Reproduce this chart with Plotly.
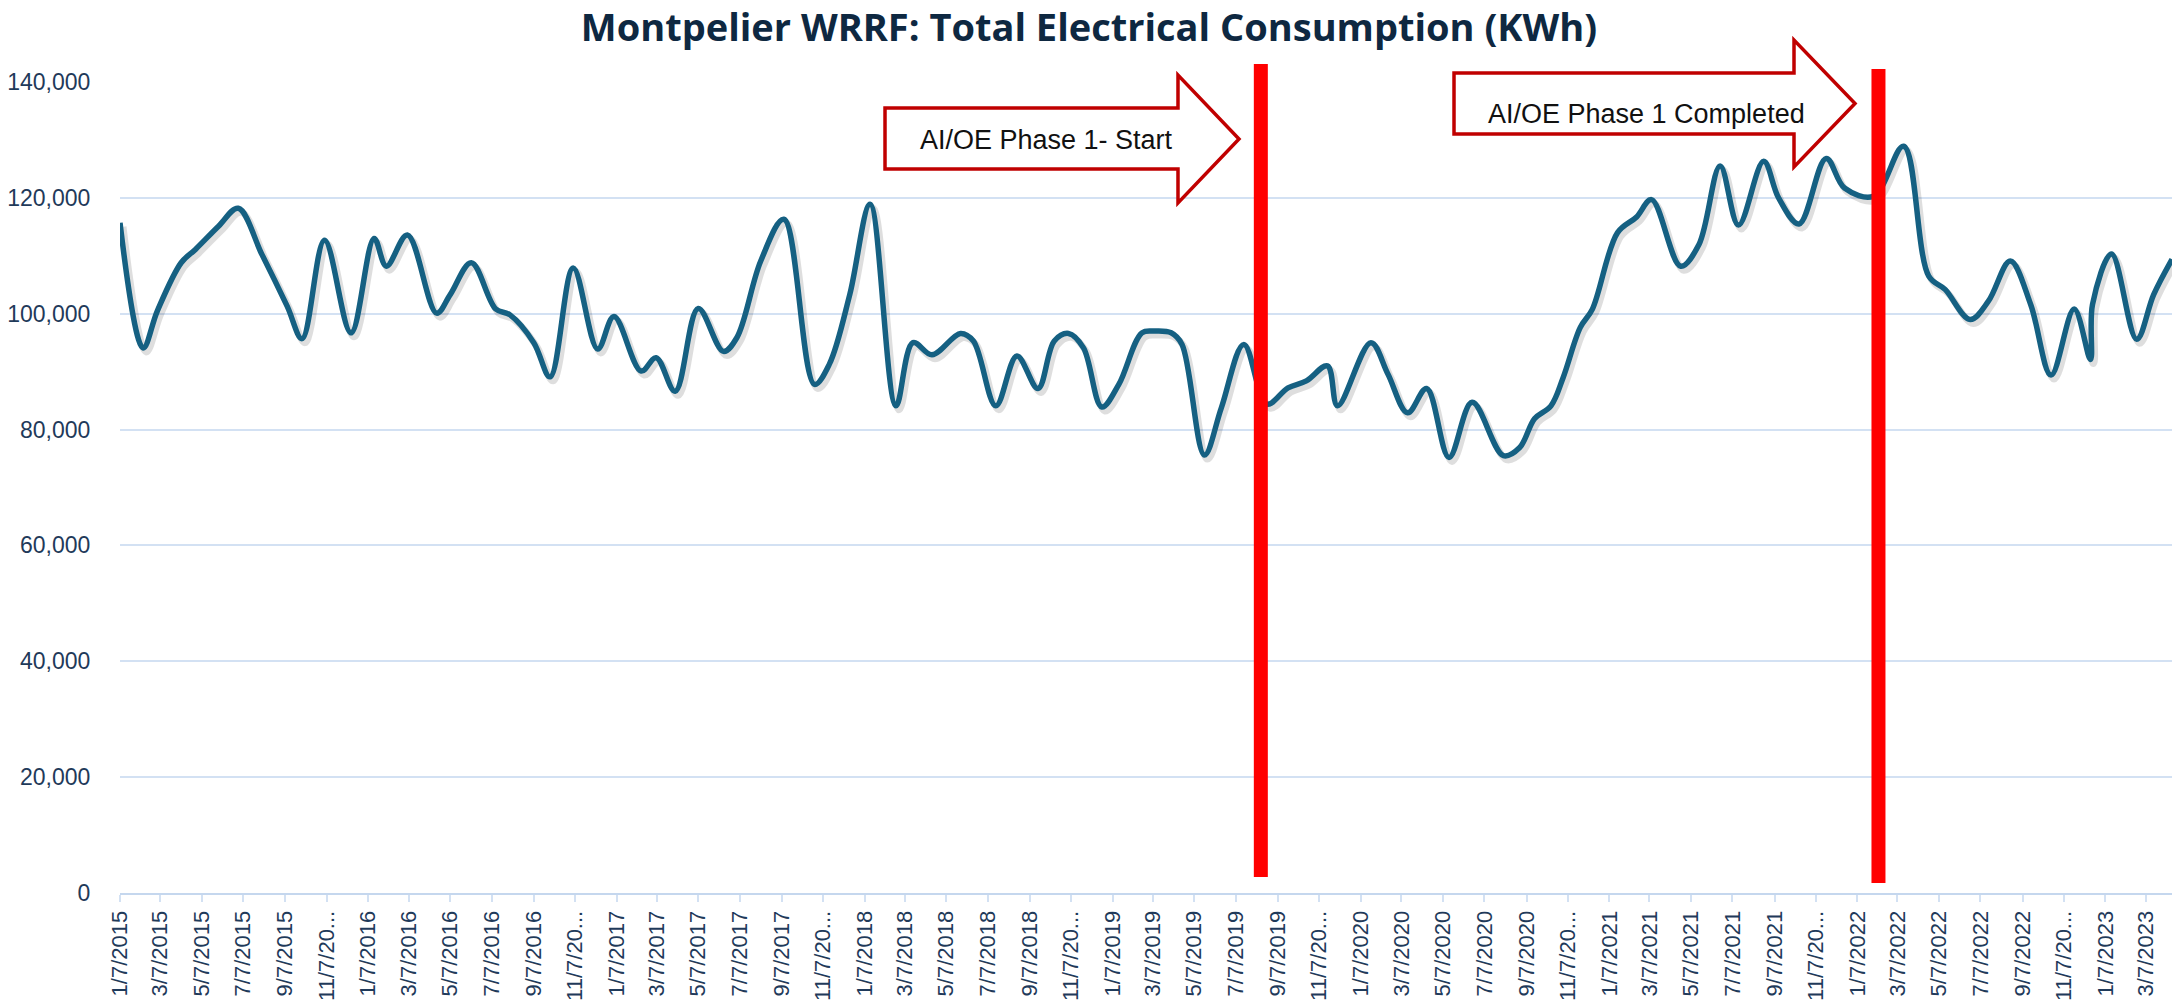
import plotly.graph_objects as go
import pandas as pd

# ---------------- data ----------------
dates = [
    "2015-01-07", "2015-02-10", "2015-03-03", "2015-04-07", "2015-04-28", "2015-06-01",
    "2015-06-30", "2015-08-04", "2015-09-10", "2015-10-02", "2015-11-04", "2015-12-13",
    "2016-01-16", "2016-02-03", "2016-03-05", "2016-04-17", "2016-05-07", "2016-06-07",
    "2016-07-13", "2016-08-03", "2016-09-07", "2016-10-01", "2016-11-04", "2016-12-10",
    "2017-01-03", "2017-02-12", "2017-03-06", "2017-04-03", "2017-05-07", "2017-06-13",
    "2017-07-03", "2017-08-07", "2017-09-10", "2017-10-25", "2017-11-16", "2017-12-16",
    "2018-01-15", "2018-02-22", "2018-03-19", "2018-04-16", "2018-05-28", "2018-06-16",
    "2018-07-19", "2018-08-19", "2018-09-19", "2018-10-13", "2018-11-03", "2018-11-25",
    "2018-12-22", "2019-01-16", "2019-02-19", "2019-03-10", "2019-04-03", "2019-04-19",
    "2019-05-22", "2019-06-16", "2019-07-19", "2019-08-22", "2019-09-22", "2019-10-19",
    "2019-11-19", "2019-12-04", "2020-01-22", "2020-02-16", "2020-03-16", "2020-04-13",
    "2020-05-16", "2020-06-19", "2020-08-04", "2020-08-28", "2020-09-19", "2020-10-13",
    "2020-10-31", "2020-11-25", "2020-12-13", "2021-01-19", "2021-02-16", "2021-03-10",
    "2021-04-22", "2021-05-19", "2021-06-19", "2021-07-16", "2021-08-22", "2021-09-13",
    "2021-10-13", "2021-11-22", "2021-12-19", "2022-01-31", "2022-03-16", "2022-04-22",
    "2022-05-16", "2022-06-22", "2022-07-19", "2022-08-20", "2022-09-19", "2022-10-19",
    "2022-11-22", "2022-12-16", "2022-12-19", "2023-01-16", "2023-02-22", "2023-03-19",
    "2023-04-15",
]
kwh = [
    115700, 94100, 100500, 108800, 111100, 115100,
    118200, 110200, 101300, 95700, 112700, 96700,
    113000, 108200, 113600, 100100, 103300, 108800,
    100800, 99800, 95000, 89100, 107900, 93900,
    99500, 90100, 92400, 86600, 100900, 93500,
    95900, 109100, 116300, 87800, 91300, 103300,
    118900, 84100, 95000, 92900, 96600, 95300,
    84100, 92700, 87100, 95300, 96600, 94100,
    83900, 87800, 96700, 97000, 96700, 94700,
    75600, 83800, 94700, 84400, 87200, 88400,
    91000, 84100, 95000, 89600, 82900, 87100,
    75200, 84700, 75500, 76900, 81900, 84100,
    89000, 97600, 100800, 114000, 116700, 119700,
    108200, 112000, 125500, 115300, 126300, 120000,
    115500, 126800, 121700, 120300, 128900, 106500,
    104200, 99000, 102200, 109100, 101600, 89400,
    100800, 92100, 101600, 110300, 95600, 103300,
    109400,
]

tick_dates = [
    "2015-01-07", "2015-03-07", "2015-05-07", "2015-07-07", "2015-09-07", "2015-11-07",
    "2016-01-07", "2016-03-07", "2016-05-07", "2016-07-07", "2016-09-07", "2016-11-07",
    "2017-01-07", "2017-03-07", "2017-05-07", "2017-07-07", "2017-09-07", "2017-11-07",
    "2018-01-07", "2018-03-07", "2018-05-07", "2018-07-07", "2018-09-07", "2018-11-07",
    "2019-01-07", "2019-03-07", "2019-05-07", "2019-07-07", "2019-09-07", "2019-11-07",
    "2020-01-07", "2020-03-07", "2020-05-07", "2020-07-07", "2020-09-07", "2020-11-07",
    "2021-01-07", "2021-03-07", "2021-05-07", "2021-07-07", "2021-09-07", "2021-11-07",
    "2022-01-07", "2022-03-07", "2022-05-07", "2022-07-07", "2022-09-07", "2022-11-07",
    "2023-01-07", "2023-03-07",
]
tick_labels = [
    "1/7/2015", "3/7/2015", "5/7/2015", "7/7/2015", "9/7/2015", "11/7/20...",
    "1/7/2016", "3/7/2016", "5/7/2016", "7/7/2016", "9/7/2016", "11/7/20...",
    "1/7/2017", "3/7/2017", "5/7/2017", "7/7/2017", "9/7/2017", "11/7/20...",
    "1/7/2018", "3/7/2018", "5/7/2018", "7/7/2018", "9/7/2018", "11/7/20...",
    "1/7/2019", "3/7/2019", "5/7/2019", "7/7/2019", "9/7/2019", "11/7/20...",
    "1/7/2020", "3/7/2020", "5/7/2020", "7/7/2020", "9/7/2020", "11/7/20...",
    "1/7/2021", "3/7/2021", "5/7/2021", "7/7/2021", "9/7/2021", "11/7/20...",
    "1/7/2022", "3/7/2022", "5/7/2022", "7/7/2022", "9/7/2022", "11/7/20...",
    "1/7/2023", "3/7/2023",
]
y_ticks = [0, 20000, 40000, 60000, 80000, 100000, 120000, 140000]

phase_dates = ["2019-08-13", "2022-02-07"]
phase_texts = ["AI/OE Phase 1- Start", "AI/OE Phase 1 Completed"]

title_text = "Montpelier WRRF: Total Electrical Consumption (KWh)"

# ---------------- geometry ----------------
W, H = 2178, 1003
ML, MR, MT, MB = 120, 6, 82, 110
PW, PH = W - ML - MR, H - MT - MB
Y_MAX = 140000


def P(x, y):
    """pixel -> paper"""
    return (x - ML) / PW, (H - MB - y) / PH


def path(pts):
    s = ""
    for i, (x, y) in enumerate(pts):
        px, py = P(x, y)
        s += ("M" if i == 0 else "L") + f"{px:.5f},{py:.5f} "
    return s + "Z"


start = pd.Timestamp(dates[0])
end = pd.Timestamp(dates[-1])
span_days = (end - start) / pd.Timedelta(days=1)
px_per_day = PW / span_days
shadow_dx = pd.Timedelta(days=3 / px_per_day)
shadow_dy = 4 * Y_MAX / PH

LINE_COLOR = "#156082"
TXT_COLOR = "#1F3A5A"
GRID = "#D3E1F3"
FONT = "Liberation Sans, Arial, sans-serif"

fig = go.Figure()

# soft shadow (drawn on hidden, slightly offset axes below the main line)
fig.add_trace(go.Scatter(
    x=dates, y=kwh, mode="lines", xaxis="x", yaxis="y",
    line=dict(color="rgba(0,0,0,0.13)", width=7, shape="spline", smoothing=1.0),
    hoverinfo="skip",
))
# main line
fig.add_trace(go.Scatter(
    x=dates, y=kwh, mode="lines", xaxis="x2", yaxis="y2",
    line=dict(color=LINE_COLOR, width=5.5, shape="spline", smoothing=1.0),
    name="KWh",
))

shapes = []
# red phase lines
for d, (top, bot) in zip(phase_dates, [(64, 877), (69, 883)]):
    shapes.append(dict(type="line", xref="x2", yref="paper",
                       x0=d, x1=d, y0=P(0, bot)[1], y1=P(0, top)[1],
                       line=dict(color="#FF0000", width=14), layer="above"))

arrow1 = [(885, 108), (1178, 108), (1178, 75), (1239, 139), (1178, 203), (1178, 169), (885, 169)]
arrow2 = [(1454, 73), (1794, 73), (1794, 40), (1855, 103.5), (1794, 167), (1794, 134), (1454, 134)]
for a in (arrow1, arrow2):
    shapes.append(dict(type="path", xref="paper", yref="paper", path=path(a),
                       fillcolor="white", line=dict(color="#C00000", width=3.5), layer="above"))

annotations = []
for txt, (cx, cy) in zip(phase_texts, [(1046, 140), (1646, 114)]):
    ax, ay = P(cx, cy)
    annotations.append(dict(text=txt, xref="paper", yref="paper", x=ax, y=ay,
                            xanchor="center", yanchor="middle", showarrow=False,
                            font=dict(family=FONT, size=27, color="#111111")))

fig.update_layout(
    width=W, height=H,
    margin=dict(l=ML, r=MR, t=MT, b=MB, autoexpand=False),
    paper_bgcolor="white", plot_bgcolor="white",
    showlegend=False,
    title=dict(text=title_text, x=1089 / W, xanchor="center", xref="container",
               y=1 - 28 / H, yref="container", yanchor="middle", automargin=False,
               font=dict(family="Open Sans, Liberation Sans, Arial, sans-serif",
                         size=38, color="#0E2841", weight="bold")),
    xaxis=dict(type="date", visible=False, automargin=False,
               range=[str(start - shadow_dx), str(end - shadow_dx)]),
    yaxis=dict(visible=False, automargin=False, range=[0 + shadow_dy, Y_MAX + shadow_dy]),
    xaxis2=dict(type="date", overlaying="x", anchor="y2", side="bottom",
                automargin=False,
                range=[dates[0], dates[-1]],
                tickmode="array", tickvals=tick_dates, ticktext=tick_labels,
                tickangle=-90, ticks="outside", ticklen=7, tickwidth=2, tickcolor=GRID,
                showline=True, linecolor="#C5D7EE", linewidth=2, showgrid=False,
                zeroline=False,
                tickfont=dict(family=FONT, size=22, color=TXT_COLOR)),
    yaxis2=dict(overlaying="y", anchor="x2", side="left", range=[0, Y_MAX],
                automargin=False,
                tickmode="array", tickvals=y_ticks, tickformat=",d",
                showgrid=True, gridcolor=GRID, gridwidth=2,
                zeroline=False, showline=False,
                ticks="outside", ticklen=24, tickcolor="rgba(0,0,0,0)",
                tickfont=dict(family=FONT, size=23, color=TXT_COLOR)),
    shapes=shapes,
    annotations=annotations,
)

fig.write_html(
    "out.html",
    config={"displayModeBar": False},
    post_script="document.body.style.margin='0';document.body.style.overflow='hidden';",
)
